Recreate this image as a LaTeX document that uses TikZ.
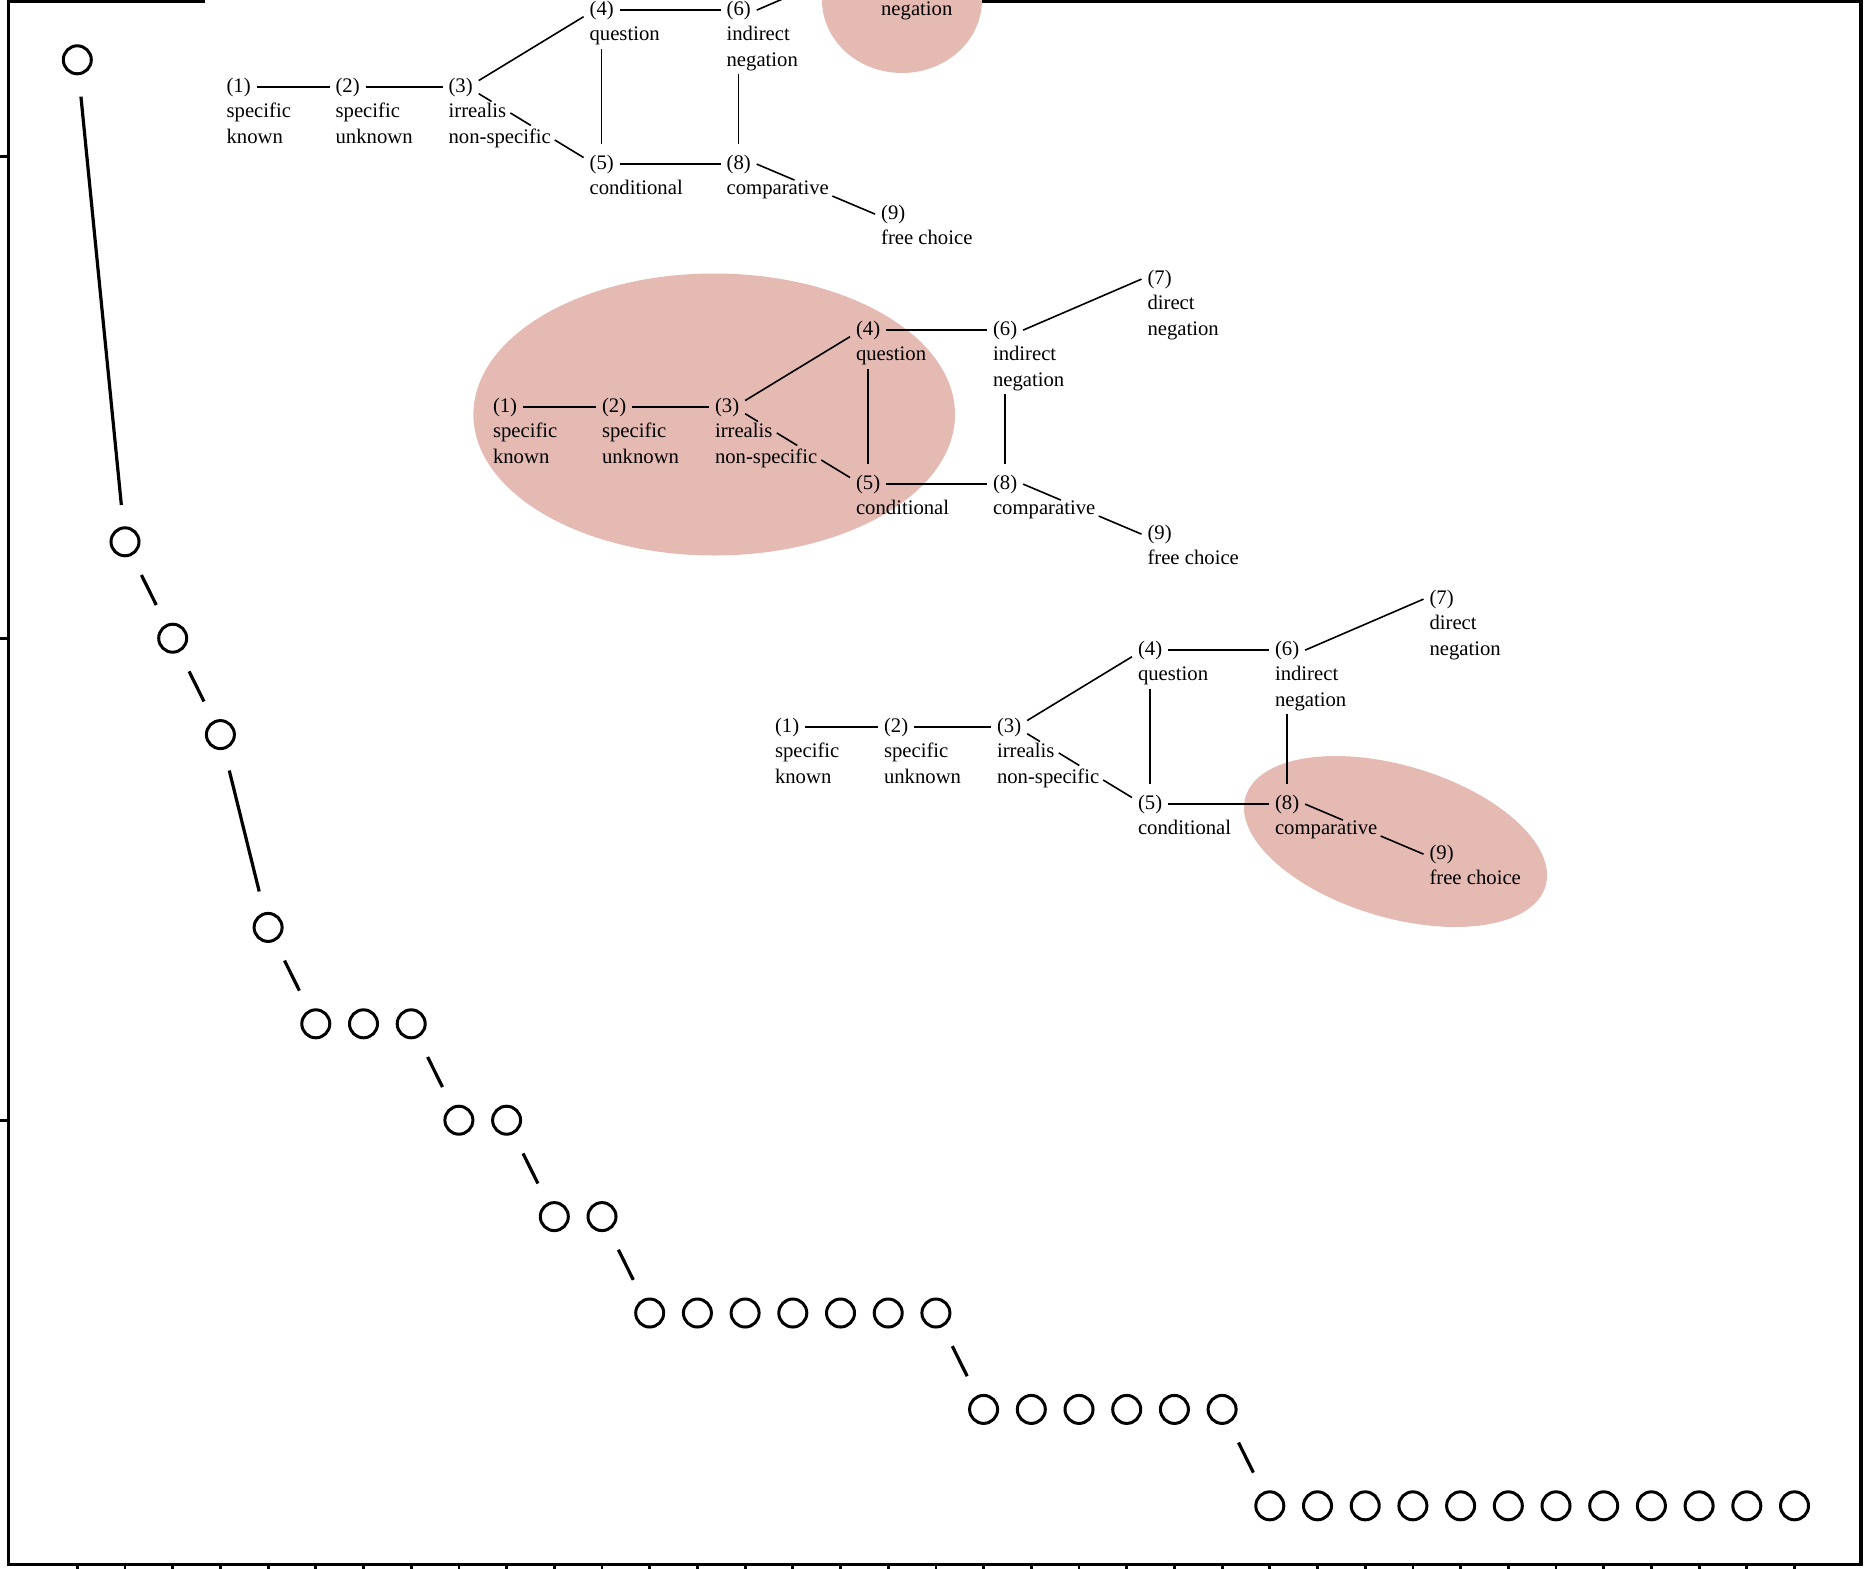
\documentclass[tikz,border=0pt]{standalone}
\usepackage{fontspec}
\setmainfont{Liberation Serif}
\definecolor{hl}{RGB}{229,186,179}
% caption blocks: first baseline is the node baseline
\newcommand\twolines[2]{\vtop{\hbox{\strut#1}\hbox{\strut#2}}}
\newcommand\oneline[1]{\vtop{\hbox{\strut#1}}}
% one semantic map; #1,#2 = baseline origin of "(1)", #3 = name prefix
\newcommand\semmap[3]{%
\begin{scope}[shift={(#1,#2)}]
  \node[num] (#3n1) at (-6,0) {(1)};
  \node[num] (#3n2) at (103,0) {(2)};
  \node[num] (#3n3) at (216,0) {(3)};
  \node[num] (#3n4) at (357,-77) {(4)};
  \node[num] (#3n5) at (357,77) {(5)};
  \node[num] (#3n6) at (494,-77) {(6)};
  \node[num] (#3n8) at (494,77) {(8)};
  \node[num] (#3n7) at (648.5,-128) {(7)};
  \node[num] (#3n9) at (648.5,127) {(9)};
  \node[capt] (#3c1) at (0,25.8) {\twolines{specific}{known}};
  \node[capt] (#3c2) at (109,25.8) {\twolines{specific}{unknown}};
  \node[capt] (#3c3) at (222,25.8) {\twolines{irrealis}{non-specific}};
  \node[capt] (#3c4) at (363,-51.2) {\oneline{question}};
  \node[capt] (#3c5) at (363,102.8) {\oneline{conditional}};
  \node[capt] (#3c6) at (500,-51.2) {\twolines{indirect}{negation}};
  \node[capt] (#3c8) at (500,102.8) {\oneline{comparative}};
  \node[capt] (#3c7) at (654.5,-102.2) {\twolines{direct}{negation}};
  \node[capt] (#3c9) at (654.5,152.8) {\oneline{free choice}};
  \draw[link] (#3n1) -- (#3n2);
  \draw[link] (#3n2) -- (#3n3);
  \draw[link] (#3n3.20) -- (#3n4.200);
  \draw[link, gapA] (#3n3.-20) -- (#3n5.160);
  \draw[link] (#3n4) -- (#3n6);
  \draw[link] (#3n5) -- (#3n8);
  \draw[link] (#3c4.south -| #3n4.center) -- (#3n5.north);
  \draw[link] (#3c6.south -| #3n6.center) -- (#3n8.north);
  \draw[link] (#3n6.east) -- (#3n7.west);
  \draw[link, gapB] (#3n8.east) -- (#3n9.west);
\end{scope}}
\begin{document}
\begin{tikzpicture}[x=1pt,y=-1pt,
  every node/.style={font=\fontsize{20.7}{25.8}\selectfont},
  num/.style={anchor=base west, inner xsep=6pt, inner ysep=11pt, outer sep=0pt},
  capt/.style={anchor=base west, inner sep=0pt, outer sep=0pt},
  link/.style={line width=1.6pt},
  gapA/.style={dash pattern=on 15pt off 22pt on 24pt off 28pt on 80pt off 1pt},
  gapB/.style={dash pattern=on 41pt off 41pt on 80pt off 1pt},
  obs/.style={circle, draw, line width=3pt, minimum size=28pt, inner sep=0pt, outer sep=0pt},
  seg/.style={line width=3.2pt, shorten <=23pt, shorten >=23pt},
  axisline/.style={line width=3.4pt, line join=miter},
  tickmark/.style={line width=2.8pt},
]
\useasboundingbox (0,0) rectangle (1865,1568);
\clip (0,0) rectangle (1865,1568);

% plot frame with ticks
\draw[axisline] (205,1.7) -- (8.5,1.7) -- (8.5,1564.3) -- (1861,1564.3) -- (1861,1.7) -- (960,1.7);
\foreach \k in {4,9,14}
  \draw[tickmark] (8.5,{1505.8-96.4*\k}) -- (-3,{1505.8-96.4*\k});
\foreach \i in {1,...,37}
  \draw[tickmark] ({77.3+47.7*(\i-1)},1564.3) -- ({77.3+47.7*(\i-1)},1575);

% highlighted regions
\fill[hl] (902,0) ellipse [x radius=80pt, y radius=73pt];
\fill[hl] (714.2,414.5) ellipse [x radius=240.8pt, y radius=141pt];
\fill[hl, rotate around={-16.6:(1395.5,841.5)}] (1395.5,841.5) ellipse [x radius=156.5pt, y radius=76pt];

% observed points
\foreach \lv [count=\i] in {15,10,9,8,6,5,5,5,4,4,3,3,2,2,2,2,2,2,2,1,1,1,1,1,1,0,0,0,0,0,0,0,0,0,0,0,0}
  \node[obs] (p\i) at ({77.3+47.7*(\i-1)},{1505.8-96.4*\lv}) {};
\foreach \a/\b in {1/2,2/3,3/4,4/5,5/6,8/9,10/11,12/13,19/20,25/26}
  \draw[seg] (p\a) -- (p\b);

% semantic maps
\semmap{226.6}{92.1}{top}
\semmap{493}{412.1}{mid}
\semmap{775}{732.1}{bot}
\end{tikzpicture}
\end{document}
